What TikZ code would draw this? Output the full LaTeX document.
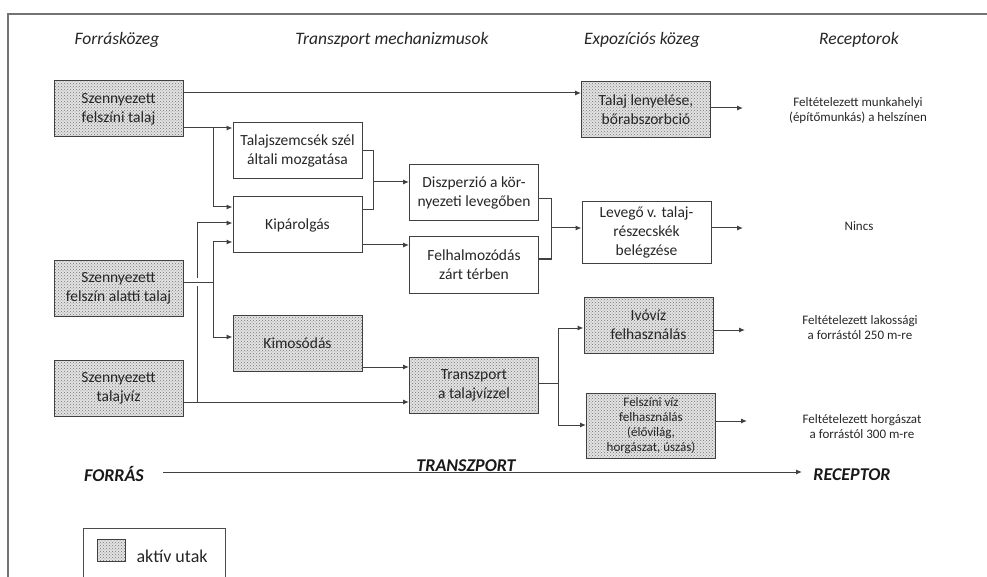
\documentclass[tikz,border=0pt]{standalone}
\usepackage{fontspec}
\setmainfont{Carlito}
\usetikzlibrary{arrows.meta,patterns}
\begin{document}
\begin{tikzpicture}[x=1pt,y=-1pt,
  box/.style={draw=black!75, line width=1pt, minimum width=129pt, minimum height=56pt, align=center, inner sep=2pt, font=\fontsize{15.5}{19}\selectfont, text=black!85},
  act/.style={box, preaction={fill=gray!22}, pattern=crosshatch dots, pattern color=black!55},
  ln/.style={draw=black!75, line width=1pt},
  arr/.style={ln, -{Latex[length=6pt,width=5pt]}},
  head/.style={font=\fontsize{17.5}{20}\selectfont\itshape, text=black!85},
  rec/.style={font=\fontsize{13}{15}\selectfont, align=center, text=black!85},
  axl/.style={font=\fontsize{18}{20}\selectfont\bfseries\itshape, text=black!90}]
\useasboundingbox (0,0) rectangle (987,577);
\clip (0,0) rectangle (987,577);
% frame
\draw[black!55, line width=1.5pt] (8,577) -- (8,14) -- (990,14);
% headings
\node[head] (h1) at (117,40) {Forrásközeg};
\node[head] (h2) at (392,40) {Transzport mechanizmusok};
\node[head] (h3) at (642,40) {Expozíciós közeg};
\node[head] (h4) at (859,40) {Receptorok};
% boxes
\node[act] (s1) at (118.5,109) {Szennyezett\\felszíni talaj};
\node[act] (lenyel) at (646,110) {Talaj lenyelése,\\bőrabszorbció};
\node[box] (szel) at (297.5,151) {Talajszemcsék szél\\általi mozgatása};
\node[box] (kip) at (297.5,225) {Kipárolgás};
\node[box] (disz) at (474,193) {Diszperzió a kör-\\nyezeti levegőben};
\node[box] (felh) at (474,265) {Felhalmozódás\\zárt térben};
\node[box, minimum height=61pt] (leveg) at (646.5,232.5) {Levegő v. talaj-\\részecskék\\belégzése};
\node[act] (s2) at (118.5,288.5) {Szennyezett\\felszín alatti talaj};
\node[act] (kimos) at (297.5,343.5) {Kimosódás};
\node[act] (s3) at (118.5,388.5) {Szennyezett\\talajvíz};
\node[act] (transz) at (474,385) {Transzport\\a talajvízzel};
\node[act] (ivo) at (648.5,325) {Ivóvíz\\felhasználás};
\node[act, minimum height=65pt, font=\fontsize{13}{15}\selectfont] (felsz) at (651,425.5) {Felszíni víz\\felhasználás\\(élővilág,\\horgászat, úszás)};
% receptor texts
\node[rec] (r1t) at (858,111) {Feltételezett munkahelyi\\(építőmunkás) a helszínen};
\node[rec] (r2t) at (859,226) {Nincs};
\node[rec] (r3t) at (860,328) {Feltételezett lakossági\\a forrástól 250 m-re};
\node[rec] (r4t) at (862,427) {Feltételezett horgászat\\a forrástól 300 m-re};
% junction coordinates
\coordinate (j1a) at (213,128);
\coordinate (j1b) at (213,207);
\coordinate (j2a) at (213,242);
\coordinate (j2b) at (213,337);
\coordinate (j2c) at (213,282);
\coordinate (j3a) at (197,402);
\coordinate (j3b) at (197,223);
\coordinate (j3g1) at (197,286);
\coordinate (j3g2) at (197,278);
\coordinate (j4a) at (373,151);
\coordinate (j4b) at (373,210);
\coordinate (j4c) at (373,182);
\coordinate (j5a) at (551,199);
\coordinate (j5b) at (551,259);
\coordinate (j5c) at (551,228);
\coordinate (j6a) at (558,383);
\coordinate (j6b) at (558,328);
\coordinate (j6c) at (558,425);
\coordinate (r1) at (743,108);
\coordinate (r2) at (743,228);
\coordinate (r3) at (745,330);
\coordinate (r4) at (747,421);
% connectors
\draw[arr] (s1.east |- 0,93) -- (lenyel.west |- 0,93);
\draw[arr] (s1.east |- j1a) -- (szel.west |- j1a);
\draw[arr] (j1a) -- (j1b) -- (kip.west |- j1b);
\draw[ln] (s2.east |- j2c) -- (j2c);
\draw[arr] (j2c) -- (j2a) -- (kip.west |- j2a);
\draw[arr] (j2c) -- (j2b) -- (kimos.west |- j2b);
\draw[arr] (s3.east |- j3a) -- (transz.west |- j3a);
\draw[ln] (j3a) -- (j3g1);
\draw[arr] (j3g2) -- (j3b) -- (kip.west |- j3b);
\draw[ln] (szel.east |- j4a) -- (j4a) -- (j4b) -- (kip.east |- j4b);
\draw[arr] (j4c) -- (disz.west |- j4c);
\draw[arr] (kip.east |- 0,245) -- (felh.west |- 0,245);
\draw[ln] (disz.east |- j5a) -- (j5a) -- (j5b) -- (felh.east |- j5b);
\draw[arr] (j5c) -- (leveg.west |- j5c);
\draw[arr] (kimos.east |- 0,367) -- (transz.west |- 0,367);
\draw[ln] (transz.east |- j6a) -- (j6a);
\draw[arr] (j6a) -- (j6b) -- (ivo.west |- j6b);
\draw[arr] (j6a) -- (j6c) -- (felsz.west |- j6c);
\draw[arr] (lenyel.east |- r1) -- (r1);
\draw[arr] (leveg.east |- r2) -- (r2);
\draw[arr] (ivo.east |- r3) -- (r3);
\draw[arr] (felsz.east |- r4) -- (r4);
% axis
\coordinate (ax1) at (163,472);
\coordinate (ax2) at (802,472);
\draw[arr] (ax1) -- (ax2);
\node[axl] (forras) at (114,474) {FORRÁS};
\node[axl, anchor=base] (transzl) at (466,471) {TRANSZPORT};
\node[axl] (receptor) at (852,475) {RECEPTOR};
% legend
\draw[draw=black!70, line width=1pt] (83,528) rectangle (225,600);
\node[act, minimum width=28pt, minimum height=22pt, inner sep=0pt] (legsq) at (111,550) {};
\node[anchor=base west, font=\fontsize{18}{20}\selectfont, text=black!85] (legtx) at (133,562) {aktív utak};
\end{tikzpicture}
\end{document}
